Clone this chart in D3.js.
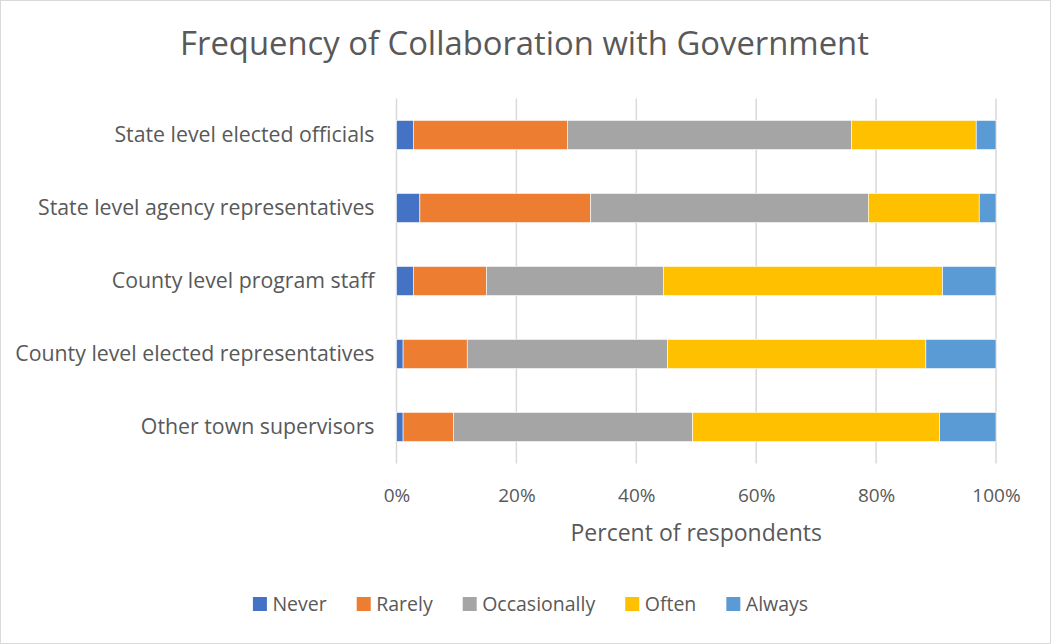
<!DOCTYPE html>
<html>
<head>
<meta charset="utf-8">
<script src="https://cdn.jsdelivr.net/npm/d3@7"></script>
<style>
  html, body { margin: 0; padding: 0; background: #fff; }
  svg { display: block; }
  text { font-family: "Open Sans", "Noto Sans", sans-serif; fill: #595959; }
</style>
</head>
<body>
<svg id="chart" width="1051" height="644"></svg>
<script>
// Respondent groups, top to bottom
const categories = [
  "State level elected officials",
  "State level agency representatives",
  "County level program staff",
  "County level elected representatives",
  "Other town supervisors"
];

// Response levels, stacked left to right
const seriesNames = ["Never", "Rarely", "Occasionally", "Often", "Always"];

// Percent of respondents per group for each response level
const never        = [2.8, 3.9, 2.8, 1.1, 1.1];
const rarely       = [25.7, 28.5, 12.2, 10.7, 8.4];
const occasionally = [47.4, 46.3, 29.5, 33.4, 39.9];
const often        = [20.8, 18.5, 46.6, 43.1, 41.2];
const always       = [3.3, 2.8, 8.9, 11.7, 9.4];

const xTicks = [0, 20, 40, 60, 80, 100];
const seriesColors = ["#4472C4", "#ED7D31", "#A5A5A5", "#FFC000", "#5B9BD5"];

const W = 1051, H = 644;
const margin = { top: 98.5, right: 55, bottom: 180.5, left: 396.5 };
const innerW = W - margin.left - margin.right;
const innerH = H - margin.top - margin.bottom;

const svg = d3.select("#chart");

// outer chart border
svg.append("rect")
  .attr("x", 0.5).attr("y", 0.5)
  .attr("width", W - 1).attr("height", H - 1)
  .attr("fill", "#fff").attr("stroke", "#d9d9d9");

// title
svg.append("text")
  .attr("x", W / 2 - 1).attr("y", 55)
  .attr("text-anchor", "middle")
  .style("font-size", "32.8px")
  .text("Frequency of Collaboration with Government");

const g = svg.append("g").attr("transform", `translate(${margin.left},${margin.top})`);

const x = d3.scaleLinear().domain([0, 100]).range([0, innerW]);
const y = d3.scaleBand().domain(categories).range([0, innerH]).paddingInner(0.6).paddingOuter(0.3);

// vertical gridlines
g.append("g")
  .selectAll("line")
  .data(xTicks)
  .join("line")
  .attr("x1", d => x(d)).attr("x2", d => x(d))
  .attr("y1", 0).attr("y2", innerH)
  .attr("stroke", "#d9d9d9").attr("stroke-width", 1.5);

// stacked data rows
const rows = categories.map((c, i) => ({
  category: c,
  Never: never[i],
  Rarely: rarely[i],
  Occasionally: occasionally[i],
  Often: often[i],
  Always: always[i]
}));

const stacked = d3.stack().keys(seriesNames)(rows);

g.append("g")
  .selectAll("g")
  .data(stacked)
  .join("g")
  .attr("fill", (d, i) => seriesColors[i])
  .selectAll("rect")
  .data(d => d)
  .join("rect")
  .attr("x", d => x(d[0]))
  .attr("y", d => y(d.data.category))
  .attr("width", d => x(d[1]) - x(d[0]))
  .attr("height", y.bandwidth())
  .attr("stroke", "#ffffff")
  .attr("stroke-width", 0.6);

// x axis tick labels
const xAxis = g.append("g")
  .attr("transform", `translate(0,${innerH})`)
  .call(d3.axisBottom(x).tickValues(xTicks).tickFormat(d => d + "%").tickSize(0).tickPadding(25));
xAxis.select(".domain").remove();
xAxis.selectAll("text").style("font-size", "19px").attr("fill", "#595959");

// y axis category labels
const yAxis = g.append("g")
  .call(d3.axisLeft(y).tickSize(0).tickPadding(22));
yAxis.select(".domain").remove();
yAxis.selectAll("text").style("font-size", "21.3px").attr("fill", "#595959");

// x axis title
g.append("text")
  .attr("x", innerW / 2).attr("y", innerH + 77.5)
  .attr("text-anchor", "middle")
  .style("font-size", "23px")
  .text("Percent of respondents");

// legend, laid out from measured label widths and centred on the chart
const legend = svg.append("g").attr("transform", `translate(0,604)`);
const sq = 14, textGap = 5.5, itemGap = 30;
const items = legend.selectAll("g").data(seriesNames).join("g");
items.append("rect")
  .attr("x", 0).attr("y", -sq / 2)
  .attr("width", sq).attr("height", sq)
  .attr("fill", (d, i) => seriesColors[i]);
items.append("text")
  .attr("x", sq + textGap).attr("y", 0)
  .attr("dy", "0.35em")
  .style("font-size", "19.5px")
  .text(d => d);
let cursor = 0;
const offsets = [];
items.each(function () {
  offsets.push(cursor);
  cursor += sq + textGap + this.querySelector("text").getComputedTextLength() + itemGap;
});
const totalW = cursor - itemGap;
const startX = (W - totalW) / 2 + 5;
items.attr("transform", (d, i) => `translate(${startX + offsets[i]},0)`);
</script>
</body>
</html>
